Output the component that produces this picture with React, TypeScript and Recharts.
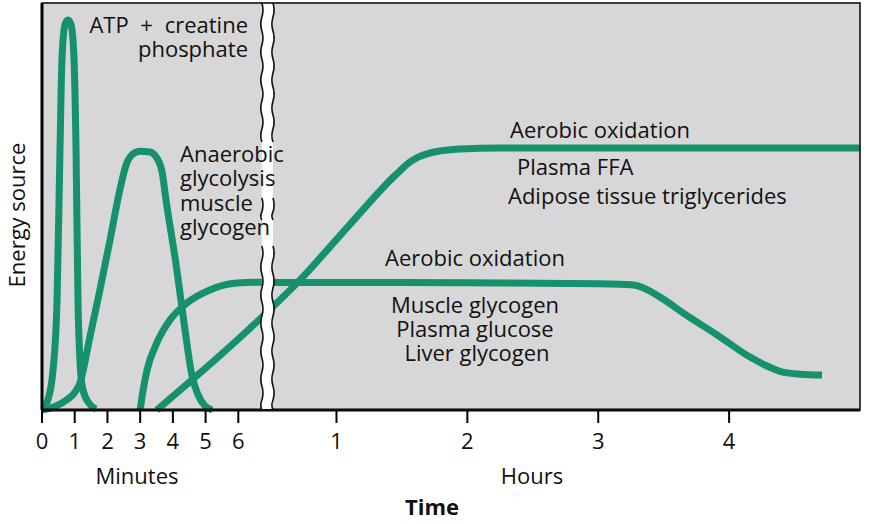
import { LineChart, Line, XAxis, YAxis, CartesianGrid } from "recharts";

const W = 873;
const H = 524;
const PLOT_L = 42;
const PLOT_R = 860;
const PLOT_T = 3;
const PLOT_B = 410;
const X_MAX = 25;
const GREEN = "#16916f";
const FONT = "'Open Sans', sans-serif";

// axis units: minutes map 1:1, hours start at 5 and take 4 units each
const HOUR_OFFSET = 5;
const HOUR_SPAN = 4;
const BREAK_AT = [6.72, 7.06];

const minuteTicks = [0, 1, 2, 3, 4, 5, 6];
const hourTicks = [1, 2, 3, 4];

// [time, level 0-100]
const atpMinutes = [
  [0, 0], [0.18, 2.5], [0.34, 10], [0.46, 27], [0.55, 64], [0.61, 86],
  [0.7, 94.6], [0.79, 95.8], [0.89, 94.6], [0.98, 86], [1.04, 64],
  [1.1, 27], [1.16, 12], [1.25, 5], [1.45, 1.5], [1.65, 0.2],
];

const anaerobicMinutes = [
  [0, 0], [0.43, 1], [0.76, 2.5], [1.01, 4.4], [1.16, 6.6], [1.47, 18.2],
  [1.77, 29.5], [2.08, 41.8], [2.38, 54.1], [2.57, 60.2], [2.75, 62.7],
  [2.99, 63.6], [3.3, 63.4], [3.51, 61.9], [3.67, 58.5], [3.79, 51.6],
  [4.1, 35.6], [4.37, 19.7], [4.58, 8.6], [4.77, 3.7], [4.98, 1], [5.2, 0],
];

const glycogenMinutes = [
  [3.0, 0], [3.09, 4.9], [3.21, 9.8], [3.51, 16.5], [3.91, 22.1], [4.43, 26.3],
  [5.13, 29.5], [5.96, 31.2], [6.66, 31.4],
];
const glycogenHours = [
  [0.72, 31.3], [1.49, 31.3], [2.25, 31.2], [3.01, 31], [3.27, 30.7], [3.47, 27.8],
  [3.65, 23.8], [3.91, 18.4], [4.16, 13], [4.29, 10.8], [4.41, 9.3], [4.54, 8.8], [4.71, 8.6],
];

const ffaMinutes = [
  [3.51, 0], [4.83, 9.1], [6.36, 20.1],
];
const ffaHours = [
  [0.72, 31.9], [1.1, 45.5], [1.45, 57.7], [1.56, 60.9], [1.71, 63.1], [1.94, 64.1],
  [2.25, 64.4], [5, 64.4],
];

const hourToAxis = (h: number) => HOUR_OFFSET + HOUR_SPAN * h;

function toPoints(mins: number[][], hours: number[][]) {
  return [
    ...mins.map(([t, v]) => ({ x: t, v })),
    ...hours.map(([t, v]) => ({ x: hourToAxis(t), v })),
  ];
}

const tickPositions = [...minuteTicks, ...hourTicks.map(hourToAxis)];

const px = (u: number) => PLOT_L + (u / X_MAX) * (PLOT_R - PLOT_L);

function wavy(x: number, y0: number, y1: number) {
  let d = `M${x},${y0}`;
  let y = y0;
  let s = 1;
  while (y < y1) {
    const step = Math.min(14, y1 - y);
    d += ` Q${x + 2.2 * s},${y + step / 2} ${x},${y + step}`;
    y += step;
    s = -s;
  }
  return d;
}

function BreakMark() {
  const x1 = px(BREAK_AT[0]);
  const x2 = px(BREAK_AT[1]);
  const segs = [
    [PLOT_T, 142],
    [198, 220],
    [246, PLOT_B],
  ];
  return (
    <g>
      <rect x={x1} y={PLOT_T} width={x2 - x1} height={PLOT_B - PLOT_T - 1} fill="#fff" />
      {segs.map(([a, b], i) => (
        <g key={i}>
          <path d={wavy(x1, a, b)} fill="none" stroke="#111" strokeWidth={1.6} />
          <path d={wavy(x2, a, b)} fill="none" stroke="#111" strokeWidth={1.6} />
        </g>
      ))}
    </g>
  );
}

const txt = { fontFamily: FONT, fontSize: 22, fill: "#111" };

export default function App() {
  const series = [
    toPoints(atpMinutes, []),
    toPoints(anaerobicMinutes, []),
    toPoints(glycogenMinutes, glycogenHours),
    toPoints(ffaMinutes, ffaHours),
  ];

  return (
    <div
      style={{
        position: "absolute",
        left: 0,
        top: 0,
        width: W,
        height: H,
        background: "#fff",
      }}
    >
      <LineChart
        width={W}
        height={H}
        margin={{ top: PLOT_T, right: W - PLOT_R, bottom: H - PLOT_B - 40, left: PLOT_L }}
      >
        <CartesianGrid fill="#d7d7d7" horizontal={false} vertical={false} />
        <XAxis
          type="number"
          dataKey="x"
          domain={[0, X_MAX]}
          ticks={tickPositions}
          interval={0}
          allowDataOverflow
          height={40}
          tickSize={13}
          tickMargin={10}
          tickFormatter={(u: number) =>
            u <= 6 ? String(u) : String((u - HOUR_OFFSET) / HOUR_SPAN)
          }
          axisLine={{ stroke: "#000", strokeWidth: 3 }}
          tickLine={{ stroke: "#000", strokeWidth: 2 }}
          tick={{ ...txt }}
        />
        <YAxis type="number" domain={[0, 100]} hide />
        {series.map((d, i) => (
          <Line
            key={i}
            data={d}
            dataKey="v"
            type="monotone"
            stroke={GREEN}
            strokeWidth={7}
            dot={false}
            activeDot={false}
            isAnimationActive={false}
          />
        ))}
      </LineChart>
      <svg
        width={W}
        height={H}
        style={{ position: "absolute", left: 0, top: 0, pointerEvents: "none" }}
      >
        <BreakMark />
        <rect
          x={PLOT_L}
          y={PLOT_T}
          width={PLOT_R - PLOT_L}
          height={PLOT_B - PLOT_T}
          fill="none"
          stroke="#111"
          strokeWidth={1.6}
        />
        <line x1={PLOT_L} y1={PLOT_T} x2={PLOT_L} y2={PLOT_B} stroke="#000" strokeWidth={3} />

        <text {...txt} x={248} y={33} textAnchor="end" wordSpacing={6}>ATP + creatine</text>
        <text {...txt} x={248} y={57} textAnchor="end">phosphate</text>

        <text {...txt} x={180} y={162}>Anaerobic</text>
        <text {...txt} x={180} y={186}>glycolysis</text>
        <text {...txt} x={180} y={211}>muscle</text>
        <text {...txt} x={180} y={235}>glycogen</text>

        <text {...txt} x={600} y={138} textAnchor="middle">Aerobic oxidation</text>
        <text {...txt} x={517} y={175}>Plasma FFA</text>
        <text {...txt} x={508} y={204}>Adipose tissue triglycerides</text>

        <text {...txt} x={475} y={266} textAnchor="middle">Aerobic oxidation</text>
        <text {...txt} x={475} y={313} textAnchor="middle">Muscle glycogen</text>
        <text {...txt} x={475} y={337} textAnchor="middle">Plasma glucose</text>
        <text {...txt} x={477} y={361} textAnchor="middle">Liver glycogen</text>

        <text {...txt} x={137} y={484} textAnchor="middle">Minutes</text>
        <text {...txt} x={532} y={484} textAnchor="middle">Hours</text>
        <text {...txt} x={432} y={515} textAnchor="middle" fontWeight="bold">Time</text>

        <text
          {...txt}
          x={16}
          y={215}
          textAnchor="middle"
          dominantBaseline="central"
          transform="rotate(-90 16 215)"
        >
          Energy source
        </text>
      </svg>
    </div>
  );
}
